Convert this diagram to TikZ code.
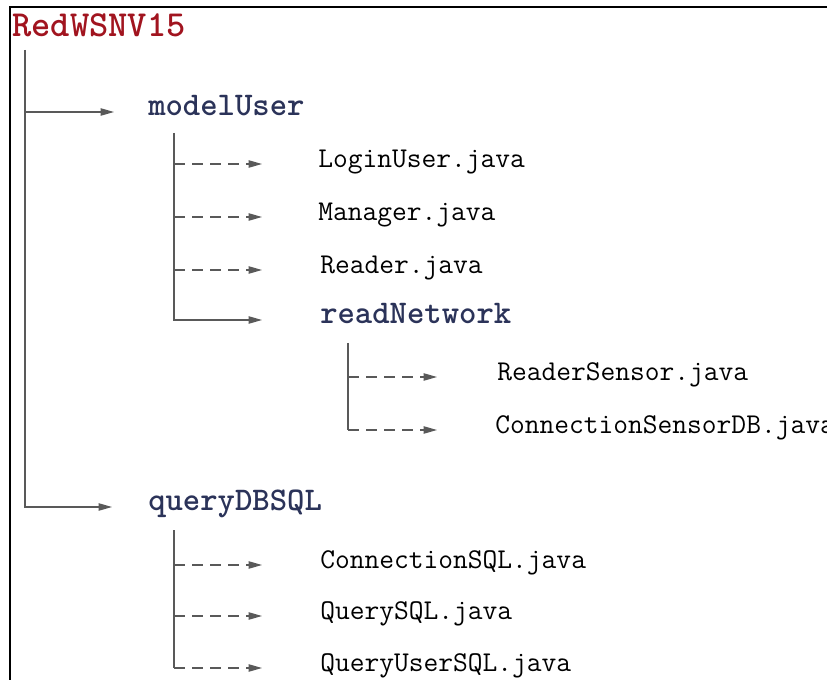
\documentclass[tikz,border=0pt]{standalone}
\usepackage{fontspec}
\usepackage{tikz}
\usetikzlibrary{calc,arrows.meta}
\definecolor{darkred}{rgb}{0.63,0.08,0.12}
\definecolor{darknavy}{rgb}{0.17,0.2,0.35}
\definecolor{linegray}{rgb}{0.35,0.35,0.35}

\begin{document}
\begin{tikzpicture}[x=0.75pt,y=-0.75pt,
    folder/.style={anchor=west,inner sep=0pt,font=\ttfamily\bfseries\fontsize{24.8}{28}\selectfont,text=darknavy,text height=0.75em,text depth=0.2em},
    file/.style={anchor=west,inner sep=0pt,font=\ttfamily\fontsize{21.5}{25}\selectfont,text height=0.75em,text depth=0.2em},
    branch/.style={draw=linegray,line width=0.9pt},
    solidarrow/.style={branch,-{Triangle[length=10pt,width=5.5pt]}},
    dasharrow/.style={branch,dash pattern=on 8.5pt off 5pt,-{Triangle[length=10pt,width=5.5pt]}}]
    \useasboundingbox (0,0) rectangle (827,680);
    % Frame
    \draw[line width=1.6pt] (10,680) -- (10,7) -- (827,7);
    % Root folder
    \node[anchor=west,inner sep=0pt,font=\ttfamily\bfseries\fontsize{27.5}{30}\selectfont,text=darkred,text height=0.7em,text depth=0.2em] (root) at (12,33) {RedWSNV15};
    \coordinate (rootTop) at (25,50);
    % Sub folders
    \node[folder] (modelUser) at (148,112) {modelUser};
    \node[folder] (queryDBSQL) at (148,507) {queryDBSQL};
    \coordinate (muTop) at (174,133);
    \coordinate (qdTop) at (174,530);
    % Files of modelUser
    \node[file] (login) at (318,164) {LoginUser.java};
    \node[file] (manager) at (318,217) {Manager.java};
    \node[file] (reader) at (320,270) {Reader.java};
    \node[folder] (readNetwork) at (320,320) {readNetwork};
    \coordinate (rnTop) at (348,343);
    % Files of readNetwork
    \node[file] (readerSensor) at (497,377) {ReaderSensor.java};
    \node[file] (conSensor) at (495,430) {ConnectionSensorDB.java};
    % Files of queryDBSQL
    \node[file] (conSQL) at (320,565) {ConnectionSQL.java};
    \node[file] (querySQL) at (320,616) {QuerySQL.java};
    \node[file] (queryUser) at (320,668) {QueryUserSQL.java};
    % Root branches
    \draw[solidarrow] (rootTop |- modelUser.west) -- ($(modelUser.west)+(-34,0)$);
    \draw[solidarrow] (rootTop) |- ($(queryDBSQL.west)+(-36,0)$);
    % modelUser branches
    \draw[dasharrow] (muTop |- login.west) -- ($(login.west)+(-56,0)$);
    \draw[dasharrow] (muTop |- manager.west) -- ($(manager.west)+(-56,0)$);
    \draw[dasharrow] (muTop |- reader.west) -- ($(reader.west)+(-58,0)$);
    \draw[solidarrow] (muTop) |- ($(readNetwork.west)+(-58,0)$);
    % readNetwork branches
    \draw[branch] (rnTop) -- (rnTop |- conSensor.west);
    \draw[dasharrow] (rnTop |- readerSensor.west) -- ($(readerSensor.west)+(-60,0)$);
    \draw[dasharrow] (rnTop |- conSensor.west) -- ($(conSensor.west)+(-58,0)$);
    % queryDBSQL branches
    \draw[branch] (qdTop) -- (qdTop |- queryUser.west);
    \draw[dasharrow] (qdTop |- conSQL.west) -- ($(conSQL.west)+(-58,0)$);
    \draw[dasharrow] (qdTop |- querySQL.west) -- ($(querySQL.west)+(-58,0)$);
    \draw[dasharrow] (qdTop |- queryUser.west) -- ($(queryUser.west)+(-58,0)$);
\end{tikzpicture}
\end{document}
